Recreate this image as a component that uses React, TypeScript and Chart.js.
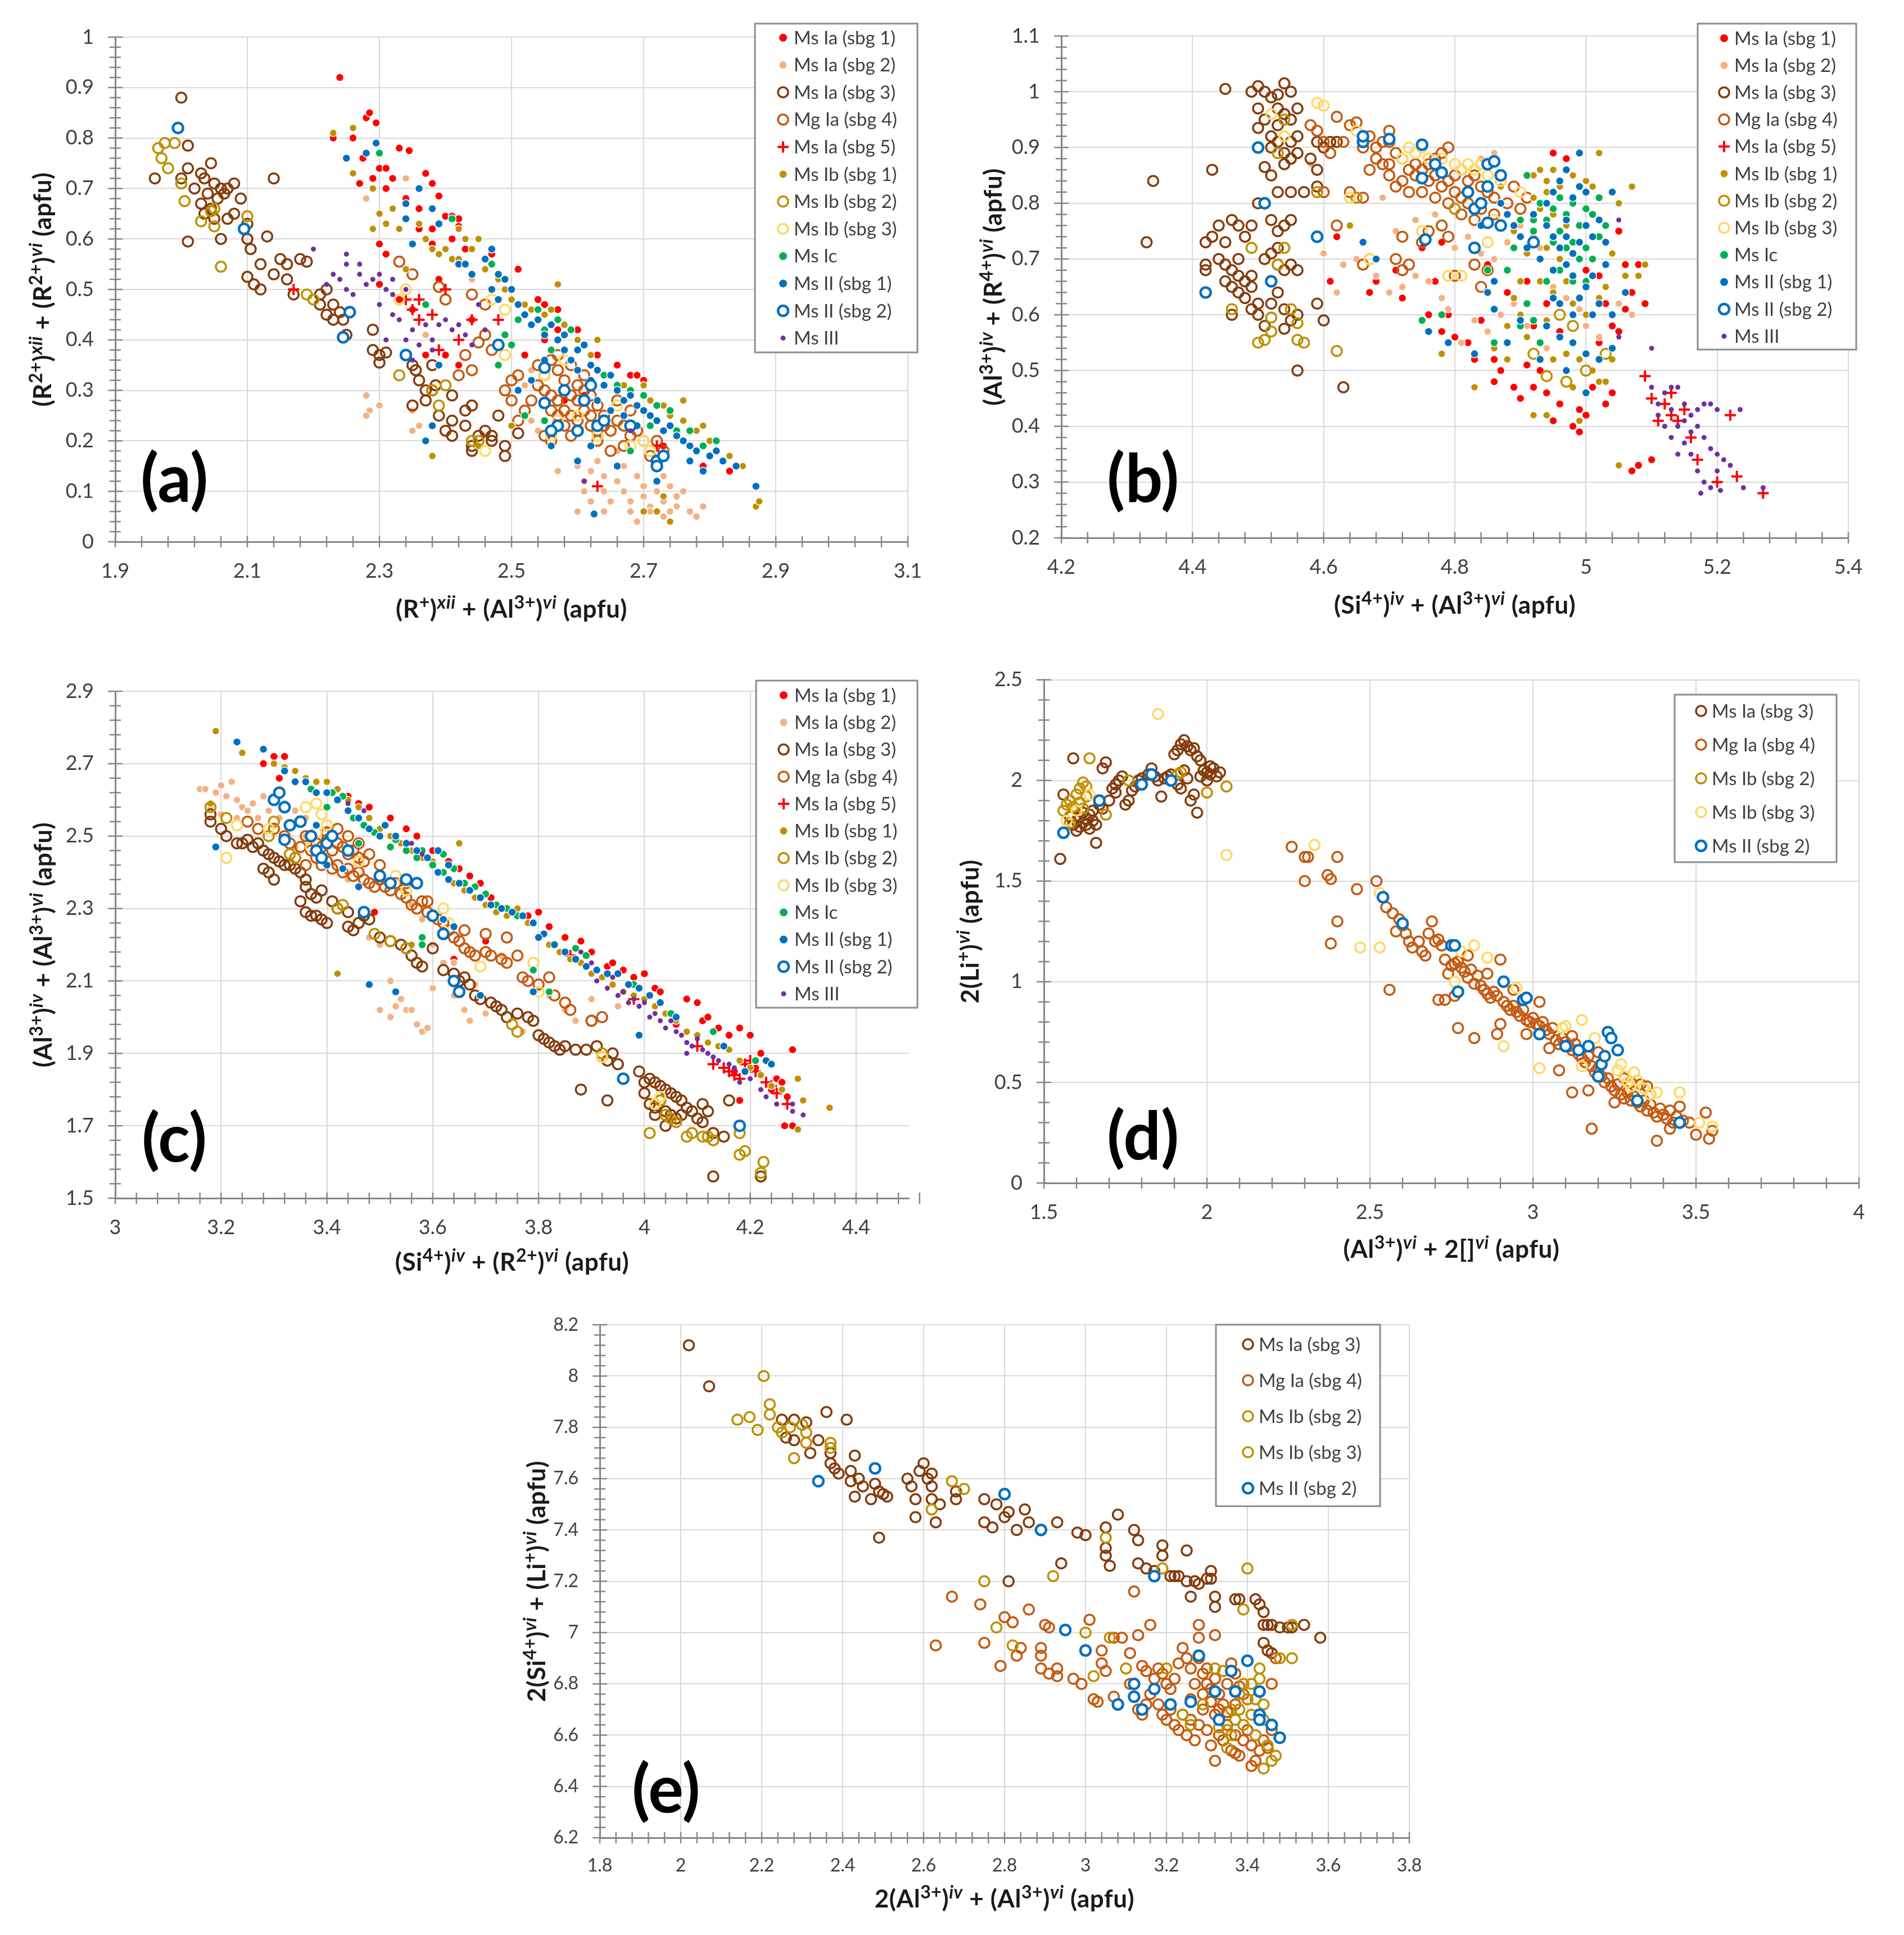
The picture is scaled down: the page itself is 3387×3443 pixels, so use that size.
import React, { useEffect, useRef } from 'react';
import { Chart, registerables } from 'chart.js';

Chart.register(...registerables);

const FONT = 'Lato, "Open Sans", sans-serif';
type Pt = [number, number];

// ---------------- tick values ----------------
const A_XT = [1.9, 2.1, 2.3, 2.5, 2.7, 2.9, 3.1];
const A_YT = [0, 0.1, 0.2, 0.3, 0.4, 0.5, 0.6, 0.7, 0.8, 0.9, 1];
const B_XT = [4.2, 4.4, 4.6, 4.8, 5, 5.2, 5.4];
const B_YT = [0.2, 0.3, 0.4, 0.5, 0.6, 0.7, 0.8, 0.9, 1, 1.1];
const C_XT = [3, 3.2, 3.4, 3.6, 3.8, 4, 4.2, 4.4];
const C_YT = [1.5, 1.7, 1.9, 2.1, 2.3, 2.5, 2.7, 2.9];
const D_XT = [1.5, 2, 2.5, 3, 3.5, 4];
const D_YT = [0, 0.5, 1, 1.5, 2, 2.5];
const E_XT = [1.8, 2, 2.2, 2.4, 2.6, 2.8, 3, 3.2, 3.4, 3.6, 3.8];
const E_YT = [6.2, 6.4, 6.6, 6.8, 7, 7.2, 7.4, 7.6, 7.8, 8, 8.2];

// ---------------- axis titles (^{..} superscript, ^[..] italic superscript) ----------------
const A_XTITLE = '(R^{+})^[xii] + (Al^{3+})^[vi] (apfu)';
const A_YTITLE = '(R^{2+})^[xii] + (R^{2+})^[vi] (apfu)';
const B_XTITLE = '(Si^{4+})^[iv] + (Al^{3+})^[vi] (apfu)';
const B_YTITLE = '(Al^{3+})^[iv] + (R^{4+})^[vi] (apfu)';
const C_XTITLE = '(Si^{4+})^[iv] + (R^{2+})^[vi] (apfu)';
const C_YTITLE = '(Al^{3+})^[iv] + (Al^{3+})^[vi] (apfu)';
const D_XTITLE = '(Al^{3+})^[vi] + 2[]^[vi] (apfu)';
const D_YTITLE = '2(Li^{+})^[vi] (apfu)';
const E_XTITLE = '2(Al^{3+})^[iv] + (Al^{3+})^[vi] (apfu)';
const E_YTITLE = '2(Si^{4+})^[vi] + (Li^{+})^[vi] (apfu)';

// ---------------- panel (a) data ----------------
const A_IA1: Pt[] = [[2.24,0.92],[2.23,0.80],[2.26,0.80],[2.28,0.84],[2.285,0.85],[2.295,0.83],[2.275,0.76],[2.27,0.71],[2.30,0.74],[2.31,0.74],[2.32,0.72],[2.29,0.72],[2.31,0.70],[2.33,0.78],[2.345,0.775],[2.37,0.73],[2.38,0.71],[2.39,0.685],[2.40,0.645],[2.41,0.645],[2.42,0.64],[2.42,0.625],[2.30,0.59],[2.31,0.57],[2.33,0.62],[2.36,0.62],[2.38,0.62],[2.43,0.58],[2.47,0.57],[2.51,0.54],[2.54,0.48],[2.55,0.47],[2.57,0.46],[2.52,0.37],[2.55,0.40],[2.60,0.42],[2.63,0.37],[2.66,0.35],[2.68,0.33],[2.69,0.33],[2.70,0.32],[2.79,0.15],[2.83,0.14],[2.73,0.19],[2.39,0.52],[2.42,0.35],[2.37,0.37],[2.40,0.37],[2.44,0.44],[2.34,0.68],[2.36,0.66],[2.30,0.51],[2.35,0.46],[2.33,0.48],[2.38,0.59],[2.41,0.60],[2.61,0.29],[2.57,0.42],[2.58,0.28]];
const A_IA2: Pt[] = [[2.28,0.29],[2.285,0.26],[2.28,0.25],[2.30,0.27],[2.35,0.26],[2.36,0.23],[2.35,0.22],[2.37,0.41],[2.37,0.20],[2.46,0.21],[2.50,0.23],[2.51,0.30],[2.52,0.31],[2.53,0.34],[2.53,0.24],[2.54,0.22],[2.56,0.19],[2.60,0.15],[2.61,0.12],[2.61,0.10],[2.62,0.14],[2.63,0.16],[2.64,0.13],[2.64,0.10],[2.65,0.08],[2.66,0.12],[2.67,0.15],[2.67,0.10],[2.68,0.08],[2.68,0.06],[2.69,0.13],[2.70,0.11],[2.70,0.09],[2.71,0.07],[2.71,0.06],[2.72,0.10],[2.72,0.12],[2.73,0.08],[2.73,0.05],[2.74,0.06],[2.75,0.09],[2.75,0.07],[2.76,0.10],[2.77,0.06],[2.78,0.05],[2.79,0.07],[2.66,0.18],[2.64,0.06],[2.69,0.04],[2.62,0.08],[2.73,0.13],[2.34,0.72],[2.43,0.55],[2.44,0.52],[2.28,0.68],[2.60,0.06],[2.57,0.14],[2.74,0.11]];
const A_IA3: Pt[] = [[2.00,0.88],[1.96,0.72],[2.00,0.72],[2.01,0.74],[2.03,0.73],[2.01,0.785],[2.045,0.75],[2.035,0.72],[2.02,0.70],[2.04,0.69],[2.05,0.71],[2.06,0.70],[2.07,0.70],[2.08,0.71],[2.03,0.67],[2.045,0.66],[2.035,0.65],[2.05,0.64],[2.07,0.64],[2.08,0.65],[2.055,0.68],[2.065,0.69],[2.09,0.68],[2.06,0.60],[2.10,0.60],[2.105,0.58],[2.10,0.63],[2.01,0.595],[2.13,0.605],[2.14,0.72],[2.12,0.55],[2.15,0.56],[2.16,0.55],[2.14,0.53],[2.16,0.52],[2.10,0.525],[2.11,0.51],[2.12,0.50],[2.17,0.49],[2.19,0.555],[2.18,0.56],[2.21,0.49],[2.21,0.47],[2.22,0.45],[2.23,0.47],[2.24,0.455],[2.23,0.44],[2.22,0.50],[2.245,0.44],[2.25,0.41],[2.29,0.42],[2.29,0.38],[2.30,0.37],[2.30,0.355],[2.31,0.375],[2.35,0.35],[2.355,0.34],[2.36,0.32],[2.37,0.30],[2.38,0.30],[2.385,0.31],[2.38,0.35],[2.35,0.27],[2.37,0.28],[2.39,0.25],[2.41,0.24],[2.41,0.29],[2.40,0.22],[2.41,0.21],[2.43,0.26],[2.44,0.27],[2.43,0.23],[2.44,0.19],[2.46,0.22],[2.47,0.21],[2.47,0.20],[2.48,0.25],[2.49,0.19],[2.49,0.17],[2.51,0.215],[2.45,0.21],[2.44,0.18]];
const A_IA4: Pt[] = [[2.33,0.555],[2.35,0.53],[2.39,0.505],[2.40,0.48],[2.44,0.49],[2.46,0.47],[2.45,0.395],[2.46,0.41],[2.43,0.37],[2.44,0.34],[2.42,0.33],[2.47,0.38],[2.50,0.32],[2.51,0.33],[2.49,0.30],[2.50,0.28],[2.52,0.26],[2.51,0.24],[2.54,0.35],[2.55,0.33],[2.56,0.36],[2.57,0.34],[2.58,0.32],[2.55,0.30],[2.56,0.29],[2.57,0.28],[2.58,0.30],[2.59,0.29],[2.60,0.28],[2.61,0.30],[2.56,0.26],[2.57,0.25],[2.58,0.26],[2.59,0.25],[2.60,0.24],[2.61,0.26],[2.62,0.25],[2.63,0.27],[2.64,0.25],[2.62,0.23],[2.63,0.22],[2.64,0.23],[2.65,0.22],[2.66,0.24],[2.67,0.23],[2.68,0.21],[2.69,0.22],[2.70,0.20],[2.60,0.22],[2.59,0.21],[2.55,0.21],[2.56,0.20],[2.58,0.23],[2.61,0.33],[2.60,0.31],[2.62,0.29],[2.53,0.28],[2.54,0.31],[2.59,0.35],[2.57,0.37],[2.66,0.28],[2.68,0.26],[2.72,0.20],[2.73,0.18],[2.71,0.17],[2.67,0.19],[2.63,0.20],[2.65,0.18]];
const A_IA5: Pt[] = [[2.17,0.50],[2.40,0.50],[2.35,0.46],[2.36,0.48],[2.38,0.45],[2.36,0.44],[2.44,0.44],[2.42,0.40],[2.39,0.38],[2.48,0.44],[2.63,0.11],[2.72,0.19],[2.34,0.48]];
const A_IB1: Pt[] = [[2.23,0.81],[2.26,0.82],[2.26,0.73],[2.29,0.70],[2.30,0.65],[2.32,0.66],[2.31,0.63],[2.29,0.62],[2.33,0.62],[2.36,0.63],[2.37,0.60],[2.38,0.58],[2.39,0.57],[2.40,0.58],[2.41,0.56],[2.42,0.56],[2.43,0.60],[2.44,0.58],[2.45,0.60],[2.44,0.53],[2.46,0.54],[2.48,0.52],[2.49,0.50],[2.50,0.48],[2.52,0.47],[2.53,0.46],[2.55,0.45],[2.56,0.46],[2.57,0.51],[2.58,0.43],[2.60,0.40],[2.62,0.37],[2.63,0.40],[2.65,0.33],[2.67,0.31],[2.70,0.31],[2.71,0.28],[2.73,0.27],[2.74,0.25],[2.76,0.24],[2.78,0.22],[2.80,0.20],[2.81,0.18],[2.83,0.17],[2.85,0.15],[2.87,0.07],[2.875,0.08],[2.70,0.06],[2.72,0.06],[2.74,0.04],[2.73,0.09],[2.38,0.17],[2.45,0.19],[2.50,0.23],[2.42,0.62],[2.34,0.54],[2.76,0.28],[2.79,0.23],[2.68,0.29]];
const A_IB2: Pt[] = [[1.965,0.78],[1.97,0.76],[1.98,0.74],[1.975,0.79],[1.99,0.79],[2.00,0.71],[2.005,0.675],[2.03,0.635],[2.045,0.655],[2.05,0.625],[2.06,0.545],[2.05,0.66],[2.10,0.645],[2.20,0.48],[2.19,0.49],[2.33,0.33],[2.38,0.30],[2.39,0.27],[2.45,0.20],[2.44,0.20],[2.40,0.31]];
const A_IB3: Pt[] = [[2.34,0.50],[2.33,0.48],[2.47,0.48],[2.49,0.37],[2.55,0.33],[2.56,0.21],[2.57,0.24],[2.60,0.25],[2.63,0.21],[2.68,0.19],[2.70,0.20],[2.71,0.18],[2.46,0.18],[2.49,0.46],[2.66,0.27],[2.58,0.36]];
const A_IC: Pt[] = [[2.30,0.77],[2.41,0.64],[2.42,0.55],[2.37,0.47],[2.47,0.55],[2.49,0.41],[2.50,0.39],[2.51,0.44],[2.53,0.43],[2.54,0.46],[2.55,0.42],[2.57,0.44],[2.52,0.25],[2.55,0.24],[2.59,0.42],[2.62,0.35],[2.64,0.33],[2.66,0.31],[2.68,0.30],[2.70,0.29],[2.72,0.27],[2.74,0.26],[2.75,0.22],[2.77,0.22],[2.79,0.19],[2.81,0.20],[2.68,0.18],[2.71,0.23],[2.60,0.38],[2.48,0.35],[2.56,0.38]];
const A_II1: Pt[] = [[2.25,0.76],[2.28,0.77],[2.295,0.79],[2.34,0.67],[2.36,0.70],[2.38,0.66],[2.39,0.63],[2.34,0.64],[2.35,0.59],[2.42,0.55],[2.43,0.55],[2.44,0.53],[2.46,0.56],[2.47,0.58],[2.48,0.53],[2.49,0.52],[2.47,0.50],[2.48,0.48],[2.50,0.50],[2.51,0.47],[2.52,0.45],[2.53,0.43],[2.54,0.44],[2.55,0.41],[2.56,0.43],[2.57,0.40],[2.58,0.41],[2.58,0.38],[2.59,0.36],[2.60,0.38],[2.61,0.39],[2.60,0.34],[2.62,0.35],[2.62,0.32],[2.63,0.34],[2.64,0.31],[2.65,0.33],[2.66,0.30],[2.67,0.28],[2.68,0.29],[2.69,0.27],[2.70,0.26],[2.71,0.25],[2.72,0.24],[2.73,0.22],[2.74,0.23],[2.75,0.21],[2.76,0.20],[2.77,0.19],[2.78,0.18],[2.80,0.17],[2.81,0.18],[2.82,0.16],[2.84,0.15],[2.87,0.11],[2.625,0.055],[2.56,0.19],[2.60,0.16],[2.62,0.19],[2.66,0.15],[2.72,0.12],[2.38,0.23],[2.37,0.20],[2.39,0.35],[2.51,0.30],[2.53,0.32],[2.55,0.36],[2.63,0.28],[2.65,0.26],[2.67,0.25],[2.69,0.23],[2.77,0.16],[2.79,0.14]];
const A_II2: Pt[] = [[1.995,0.82],[2.095,0.62],[2.255,0.455],[2.245,0.405],[2.34,0.37],[2.48,0.39],[2.55,0.345],[2.55,0.275],[2.58,0.30],[2.57,0.23],[2.56,0.22],[2.60,0.22],[2.63,0.23],[2.64,0.24],[2.68,0.23],[2.72,0.16],[2.72,0.15],[2.73,0.17],[2.61,0.28],[2.62,0.31]];
const A_III: Pt[] = [[2.20,0.58],[2.25,0.57],[2.25,0.55],[2.23,0.53],[2.24,0.52],[2.25,0.50],[2.27,0.53],[2.28,0.51],[2.29,0.52],[2.30,0.53],[2.31,0.50],[2.32,0.49],[2.30,0.47],[2.32,0.45],[2.33,0.44],[2.35,0.42],[2.34,0.40],[2.36,0.39],[2.38,0.40],[2.39,0.43],[2.41,0.42],[2.42,0.43],[2.37,0.43],[2.40,0.44],[2.43,0.41],[2.44,0.39],[2.38,0.38],[2.45,0.47],[2.46,0.42],[2.32,0.52],[2.34,0.50],[2.26,0.49],[2.35,0.36],[2.31,0.40],[2.27,0.55],[2.61,0.12],[2.68,0.22],[2.22,0.51]];

// ---------------- panel (b) data ----------------
const B_IA1: Pt[] = [[4.62,0.74],[4.61,0.66],[4.67,0.64],[4.68,0.66],[4.71,0.68],[4.72,0.63],[4.75,0.72],[4.76,0.60],[4.77,0.66],[4.78,0.57],[4.79,0.60],[4.78,0.73],[4.80,0.56],[4.82,0.55],[4.83,0.52],[4.84,0.59],[4.85,0.69],[4.86,0.48],[4.86,0.52],[4.87,0.50],[4.88,0.55],[4.89,0.47],[4.90,0.45],[4.91,0.51],[4.92,0.47],[4.93,0.50],[4.94,0.46],[4.95,0.41],[4.96,0.44],[4.97,0.88],[4.98,0.40],[4.99,0.39],[5.00,0.42],[5.01,0.47],[5.03,0.44],[5.04,0.46],[5.05,0.57],[5.06,0.61],[5.07,0.64],[5.08,0.69],[5.06,0.69],[5.05,0.75],[4.95,0.89],[4.99,0.43],[5.02,0.55],[5.04,0.58],[5.08,0.33],[5.07,0.32],[5.10,0.34],[5.09,0.62],[5.03,0.62],[4.92,0.58],[4.94,0.62],[4.96,0.57],[5.00,0.68],[5.02,0.67],[4.88,0.64],[4.91,0.66]];
const B_IA2: Pt[] = [[4.58,0.87],[4.60,0.71],[4.63,0.69],[4.62,0.64],[4.65,0.70],[4.66,0.73],[4.68,0.67],[4.70,0.64],[4.72,0.65],[4.74,0.67],[4.76,0.66],[4.78,0.63],[4.79,0.61],[4.80,0.72],[4.82,0.74],[4.84,0.71],[4.86,0.70],[4.88,0.73],[4.90,0.76],[4.92,0.74],[4.93,0.72],[4.87,0.60],[4.89,0.62],[4.85,0.57],[4.83,0.59],[4.81,0.55],[4.95,0.65],[4.97,0.63],[4.99,0.61],[5.00,0.58],[5.02,0.56],[4.74,0.77],[4.77,0.78],[4.86,0.89],[4.84,0.88],[4.69,0.81],[4.71,0.75],[4.94,0.54],[4.91,0.58],[5.05,0.62],[5.07,0.60]];
const B_IA3: Pt[] = [[4.33,0.73],[4.34,0.84],[4.43,0.86],[4.45,1.005],[4.49,1.00],[4.50,1.01],[4.51,1.00],[4.52,0.99],[4.53,0.995],[4.54,1.015],[4.55,1.00],[4.53,0.97],[4.54,0.96],[4.56,0.97],[4.55,0.95],[4.53,0.94],[4.52,0.92],[4.51,0.95],[4.50,0.97],[4.50,0.935],[4.52,0.90],[4.53,0.91],[4.54,0.89],[4.55,0.91],[4.56,0.92],[4.55,0.88],[4.54,0.87],[4.51,0.865],[4.52,0.85],[4.53,0.82],[4.55,0.82],[4.56,0.89],[4.57,0.82],[4.59,0.83],[4.59,0.86],[4.58,0.88],[4.60,0.90],[4.61,0.91],[4.62,0.91],[4.59,0.91],[4.51,0.80],[4.50,0.80],[4.44,0.76],[4.45,0.73],[4.46,0.77],[4.47,0.76],[4.48,0.74],[4.49,0.76],[4.42,0.73],[4.43,0.74],[4.42,0.69],[4.42,0.68],[4.44,0.70],[4.45,0.69],[4.46,0.68],[4.47,0.67],[4.45,0.66],[4.46,0.65],[4.47,0.64],[4.48,0.66],[4.49,0.67],[4.48,0.63],[4.49,0.61],[4.50,0.60],[4.51,0.58],[4.52,0.62],[4.51,0.70],[4.52,0.71],[4.53,0.69],[4.54,0.68],[4.55,0.69],[4.53,0.75],[4.54,0.76],[4.55,0.77],[4.52,0.77],[4.56,0.68],[4.53,0.64],[4.54,0.575],[4.55,0.59],[4.56,0.50],[4.56,0.60],[4.59,0.62],[4.60,0.59],[4.63,0.47],[4.49,0.65],[4.50,0.62],[4.46,0.60],[4.47,0.70],[4.53,0.72],[4.54,0.61]];
const B_IA4: Pt[] = [[4.62,0.955],[4.64,0.94],[4.65,0.945],[4.60,0.91],[4.61,0.89],[4.63,0.91],[4.66,0.90],[4.67,0.92],[4.68,0.90],[4.69,0.91],[4.70,0.91],[4.71,0.89],[4.68,0.88],[4.69,0.87],[4.67,0.86],[4.70,0.87],[4.72,0.88],[4.73,0.86],[4.72,0.84],[4.74,0.85],[4.75,0.86],[4.76,0.87],[4.77,0.88],[4.78,0.89],[4.79,0.90],[4.76,0.84],[4.77,0.85],[4.78,0.83],[4.79,0.84],[4.80,0.85],[4.81,0.86],[4.82,0.84],[4.83,0.85],[4.84,0.83],[4.80,0.82],[4.81,0.81],[4.82,0.80],[4.79,0.80],[4.77,0.81],[4.75,0.82],[4.73,0.82],[4.71,0.83],[4.70,0.85],[4.85,0.82],[4.86,0.81],[4.88,0.80],[4.90,0.79],[4.84,0.79],[4.86,0.78],[4.83,0.77],[4.81,0.78],[4.78,0.76],[4.76,0.75],[4.79,0.74],[4.72,0.74],[4.71,0.70],[4.73,0.69],[4.72,0.68],[4.75,0.73],[4.80,0.67],[4.83,0.69],[4.85,0.68],[4.84,0.65],[4.66,0.81],[4.64,0.82],[4.60,0.82],[4.62,0.76],[4.67,0.70],[4.59,0.93],[4.58,0.94],[4.87,0.85],[4.89,0.83],[4.91,0.81],[4.74,0.87],[4.70,0.93],[4.66,0.69]];
const B_IA5: Pt[] = [[5.09,0.49],[5.10,0.45],[5.12,0.44],[5.13,0.42],[5.14,0.41],[5.15,0.43],[5.16,0.38],[5.17,0.34],[5.20,0.30],[5.23,0.31],[5.22,0.42],[5.11,0.41],[5.27,0.28],[5.13,0.46]];
const B_IB1: Pt[] = [[4.64,0.76],[4.78,0.53],[4.83,0.47],[4.86,0.54],[4.88,0.58],[4.89,0.63],[4.90,0.66],[4.91,0.56],[4.92,0.85],[4.93,0.86],[4.94,0.84],[4.95,0.86],[4.92,0.81],[4.93,0.79],[4.94,0.82],[4.96,0.83],[4.98,0.85],[5.00,0.84],[5.02,0.89],[5.01,0.83],[4.95,0.78],[4.97,0.76],[4.94,0.72],[4.96,0.70],[4.93,0.66],[4.95,0.64],[4.97,0.66],[4.98,0.62],[5.00,0.60],[5.02,0.63],[5.03,0.65],[4.94,0.59],[4.96,0.56],[4.97,0.53],[4.99,0.52],[5.01,0.50],[4.95,0.52],[4.93,0.55],[4.92,0.42],[4.94,0.42],[4.99,0.41],[5.02,0.48],[5.03,0.48],[5.04,0.71],[5.05,0.80],[5.07,0.83],[5.08,0.67],[5.09,0.69],[5.06,0.67],[5.05,0.33],[4.98,0.47],[4.90,0.60],[4.88,0.52],[5.04,0.52],[4.91,0.71],[4.89,0.75],[4.87,0.83]];
const B_IB2: Pt[] = [[4.46,0.61],[4.50,0.55],[4.51,0.555],[4.52,0.57],[4.52,0.595],[4.49,0.72],[4.53,0.69],[4.54,0.72],[4.55,0.61],[4.57,0.55],[4.56,0.555],[4.56,0.585],[4.59,0.82],[4.53,0.89],[4.54,0.95],[4.62,0.535],[4.65,0.81],[4.80,0.79],[4.92,0.53],[4.94,0.49],[4.97,0.48],[5.00,0.50],[4.98,0.58],[4.96,0.60],[5.03,0.53]];
const B_IB3: Pt[] = [[4.52,0.96],[4.59,0.98],[4.60,0.975],[4.54,0.92],[4.51,0.80],[4.64,0.81],[4.65,0.93],[4.67,0.70],[4.72,0.88],[4.73,0.90],[4.74,0.89],[4.75,0.90],[4.76,0.88],[4.78,0.88],[4.80,0.87],[4.81,0.86],[4.82,0.87],[4.83,0.86],[4.84,0.87],[4.85,0.85],[4.87,0.84],[4.75,0.75],[4.79,0.67],[4.81,0.67],[4.85,0.73],[4.86,0.77],[4.90,0.82]];
const B_IC: Pt[] = [[4.75,0.59],[4.78,0.60],[4.85,0.68],[4.86,0.55],[4.88,0.68],[4.90,0.77],[4.91,0.85],[4.92,0.75],[4.93,0.80],[4.94,0.77],[4.95,0.79],[4.96,0.81],[4.97,0.78],[4.98,0.80],[4.99,0.76],[5.00,0.79],[5.01,0.78],[5.02,0.81],[4.93,0.70],[4.95,0.73],[4.97,0.72],[4.99,0.70],[5.00,0.72],[5.01,0.70],[4.94,0.66],[4.96,0.68],[4.98,0.66],[4.91,0.62],[4.92,0.59],[4.93,0.55],[4.90,0.58],[5.02,0.74],[5.03,0.76],[4.89,0.72],[4.92,0.77],[4.96,0.75],[4.98,0.73],[5.00,0.66]];
const B_II1: Pt[] = [[4.68,0.70],[4.66,0.73],[4.76,0.57],[4.79,0.55],[4.82,0.82],[4.83,0.79],[4.84,0.76],[4.85,0.64],[4.86,0.66],[4.87,0.80],[4.88,0.78],[4.89,0.76],[4.90,0.74],[4.91,0.72],[4.92,0.78],[4.94,0.80],[4.95,0.82],[4.96,0.84],[4.97,0.86],[4.98,0.81],[4.99,0.83],[5.00,0.82],[4.94,0.76],[4.95,0.74],[4.96,0.72],[4.97,0.74],[4.98,0.71],[4.99,0.73],[5.00,0.76],[5.01,0.74],[5.02,0.77],[4.93,0.70],[4.95,0.68],[4.97,0.69],[4.98,0.67],[5.00,0.65],[5.01,0.67],[5.03,0.69],[4.96,0.62],[4.98,0.60],[4.99,0.63],[5.01,0.60],[5.02,0.62],[5.04,0.60],[4.94,0.58],[4.96,0.56],[4.98,0.55],[5.00,0.53],[5.02,0.52],[5.04,0.54],[4.93,0.52],[4.97,0.50],[5.00,0.46],[4.95,0.63],[5.04,0.82],[5.06,0.64],[4.90,0.59],[4.88,0.55],[4.83,0.53],[4.86,0.61],[4.99,0.89],[4.97,0.77],[5.03,0.73]];
const B_II2: Pt[] = [[4.42,0.64],[4.50,0.90],[4.51,0.80],[4.52,0.66],[4.59,0.74],[4.66,0.91],[4.66,0.92],[4.70,0.915],[4.75,0.905],[4.77,0.87],[4.78,0.855],[4.75,0.845],[4.755,0.735],[4.82,0.82],[4.83,0.79],[4.84,0.80],[4.85,0.83],[4.85,0.87],[4.86,0.875],[4.87,0.85],[4.87,0.76],[4.85,0.765],[4.83,0.72],[4.92,0.73]];
const B_III: Pt[] = [[5.05,0.77],[5.05,0.56],[5.10,0.54],[5.10,0.47],[5.11,0.42],[5.12,0.46],[5.13,0.47],[5.14,0.47],[5.15,0.44],[5.12,0.40],[5.13,0.38],[5.14,0.40],[5.15,0.41],[5.16,0.42],[5.17,0.43],[5.18,0.44],[5.19,0.44],[5.20,0.43],[5.16,0.39],[5.17,0.40],[5.18,0.38],[5.19,0.36],[5.20,0.35],[5.15,0.37],[5.16,0.35],[5.14,0.35],[5.17,0.32],[5.18,0.30],[5.20,0.32],[5.21,0.34],[5.22,0.33],[5.19,0.29],[5.175,0.28],[5.205,0.285],[5.24,0.29],[5.235,0.43],[5.27,0.29],[5.11,0.44],[5.13,0.43]];

// ---------------- panel (c) data ----------------
const C_IA1: Pt[] = [[3.28,2.70],[3.30,2.72],[3.32,2.72],[3.31,2.66],[3.40,2.62],[3.42,2.60],[3.44,2.61],[3.46,2.59],[3.48,2.58],[3.52,2.55],[3.55,2.52],[3.57,2.50],[3.60,2.46],[3.63,2.43],[3.65,2.41],[3.67,2.39],[3.69,2.37],[3.71,2.33],[3.78,2.28],[3.80,2.29],[3.82,2.25],[3.85,2.22],[3.88,2.21],[3.90,2.18],[3.93,2.14],[3.94,2.15],[3.96,2.13],[3.98,2.11],[4.00,2.12],[4.02,2.08],[4.03,2.07],[4.08,2.05],[4.10,2.04],[4.11,1.99],[4.12,2.00],[4.14,1.97],[4.16,1.95],[4.18,1.97],[4.20,1.95],[4.22,1.90],[4.23,1.88],[4.25,1.83],[4.26,1.82],[4.27,1.78],[4.28,1.91],[4.265,1.70],[4.28,1.70],[4.18,1.77],[3.64,2.16],[3.49,2.29],[3.70,2.21],[4.06,1.98],[4.17,1.85],[4.24,1.80],[4.21,1.86]];
const C_IA2: Pt[] = [[3.16,2.63],[3.17,2.63],[3.19,2.62],[3.20,2.64],[3.21,2.61],[3.22,2.65],[3.23,2.60],[3.24,2.58],[3.25,2.57],[3.26,2.59],[3.18,2.58],[3.20,2.56],[3.23,2.55],[3.27,2.55],[3.29,2.57],[3.30,2.53],[3.31,2.55],[3.28,2.61],[3.32,2.59],[3.34,2.57],[3.36,2.55],[3.38,2.53],[3.40,2.52],[3.44,2.38],[3.46,2.36],[3.48,2.22],[3.50,2.20],[3.52,2.10],[3.54,2.05],[3.53,2.03],[3.55,2.02],[3.50,2.02],[3.52,2.00],[3.57,1.98],[3.58,1.96],[3.59,1.97],[3.56,2.02],[3.60,2.08],[3.62,2.15],[3.64,2.06],[3.66,2.02],[3.67,1.99],[3.68,2.09],[3.70,2.01],[3.73,2.17],[3.77,1.96],[3.82,2.06],[3.85,2.02],[3.87,1.99],[3.90,2.05],[3.95,2.03],[3.60,2.20],[3.64,2.15],[3.56,2.31],[3.58,2.27],[3.34,2.47],[3.36,2.50]];
const C_IA3: Pt[] = [[3.18,2.56],[3.18,2.54],[3.20,2.52],[3.21,2.50],[3.23,2.48],[3.24,2.48],[3.25,2.49],[3.26,2.47],[3.27,2.48],[3.28,2.46],[3.29,2.45],[3.30,2.44],[3.28,2.41],[3.29,2.40],[3.30,2.38],[3.31,2.43],[3.32,2.42],[3.33,2.42],[3.34,2.41],[3.35,2.40],[3.36,2.38],[3.36,2.36],[3.37,2.34],[3.38,2.33],[3.39,2.35],[3.35,2.32],[3.36,2.29],[3.37,2.28],[3.38,2.28],[3.39,2.27],[3.40,2.26],[3.41,2.32],[3.42,2.30],[3.44,2.25],[3.45,2.24],[3.46,2.26],[3.48,2.27],[3.50,2.22],[3.52,2.21],[3.54,2.20],[3.55,2.19],[3.56,2.17],[3.57,2.15],[3.58,2.14],[3.60,2.19],[3.62,2.13],[3.64,2.12],[3.65,2.10],[3.66,2.11],[3.67,2.09],[3.68,2.06],[3.69,2.05],[3.71,2.04],[3.72,2.03],[3.73,2.02],[3.74,2.00],[3.76,2.01],[3.78,2.00],[3.79,1.99],[3.80,1.95],[3.81,1.94],[3.82,1.93],[3.83,1.92],[3.84,1.91],[3.85,1.92],[3.87,1.91],[3.89,1.91],[3.90,1.99],[3.91,1.92],[3.92,1.89],[3.93,1.88],[3.94,1.90],[3.95,1.87],[3.88,1.80],[3.93,1.77],[3.99,1.85],[4.00,1.82],[4.01,1.83],[4.02,1.82],[4.03,1.81],[4.04,1.80],[4.05,1.79],[4.06,1.78],[4.07,1.77],[4.00,1.79],[4.01,1.76],[4.02,1.75],[4.03,1.77],[4.04,1.74],[4.05,1.73],[4.06,1.72],[4.07,1.73],[4.08,1.75],[4.09,1.74],[4.10,1.72],[4.11,1.71],[4.12,1.74],[4.13,1.68],[4.15,1.67],[4.11,1.76],[4.16,1.77],[4.13,1.56],[4.22,1.56],[4.02,1.73],[4.04,1.70],[3.44,2.29],[3.47,2.28]];
const C_IA4: Pt[] = [[3.25,2.54],[3.27,2.52],[3.30,2.52],[3.32,2.50],[3.33,2.48],[3.35,2.47],[3.36,2.50],[3.37,2.46],[3.38,2.48],[3.39,2.47],[3.40,2.49],[3.41,2.46],[3.42,2.48],[3.43,2.47],[3.44,2.45],[3.45,2.46],[3.46,2.44],[3.47,2.43],[3.48,2.45],[3.38,2.44],[3.39,2.42],[3.40,2.43],[3.41,2.41],[3.42,2.42],[3.43,2.40],[3.44,2.41],[3.45,2.39],[3.46,2.40],[3.47,2.38],[3.48,2.37],[3.49,2.36],[3.50,2.38],[3.51,2.36],[3.52,2.35],[3.53,2.37],[3.54,2.34],[3.55,2.33],[3.56,2.31],[3.57,2.30],[3.58,2.32],[3.59,2.29],[3.60,2.28],[3.61,2.27],[3.62,2.26],[3.63,2.24],[3.64,2.22],[3.65,2.21],[3.66,2.19],[3.67,2.18],[3.68,2.17],[3.70,2.18],[3.71,2.17],[3.73,2.16],[3.74,2.15],[3.76,2.17],[3.77,2.11],[3.78,2.10],[3.80,2.09],[3.82,2.11],[3.83,2.06],[3.85,2.04],[3.86,2.02],[3.90,1.99],[3.92,2.00],[3.74,2.22],[3.70,2.23],[3.66,2.24],[3.62,2.23],[3.59,2.32],[3.55,2.37],[3.50,2.42],[3.40,2.51],[3.42,2.52],[3.44,2.50],[3.46,2.48],[3.36,2.42],[3.34,2.44]];
const C_IA5: Pt[] = [[4.10,1.92],[4.13,1.87],[4.15,1.86],[4.16,1.85],[4.17,1.84],[4.19,1.87],[4.21,1.85],[4.23,1.82],[4.25,1.79],[4.20,1.88],[4.18,1.83],[4.27,1.76],[4.24,1.81],[3.86,2.17],[3.98,2.05]];
const C_IB1: Pt[] = [[3.19,2.79],[3.24,2.73],[3.30,2.70],[3.34,2.68],[3.36,2.66],[3.38,2.65],[3.40,2.65],[3.42,2.63],[3.44,2.60],[3.46,2.58],[3.48,2.55],[3.50,2.52],[3.52,2.50],[3.54,2.48],[3.56,2.46],[3.58,2.44],[3.60,2.43],[3.65,2.48],[3.62,2.40],[3.64,2.37],[3.66,2.35],[3.68,2.33],[3.70,2.31],[3.72,2.29],[3.74,2.28],[3.76,2.30],[3.78,2.26],[3.80,2.22],[3.82,2.20],[3.84,2.18],[3.86,2.16],[3.88,2.15],[3.90,2.12],[3.92,2.11],[3.94,2.09],[3.96,2.07],[3.98,2.06],[4.00,2.05],[4.02,2.03],[4.04,2.01],[4.06,1.99],[4.08,1.96],[4.10,1.95],[4.12,1.93],[4.14,1.92],[4.16,1.91],[4.18,1.88],[4.20,1.86],[4.22,1.84],[4.24,1.81],[4.26,1.80],[4.29,1.83],[4.30,1.77],[4.29,1.69],[4.35,1.75],[3.42,2.12],[3.56,2.20],[3.18,2.59],[3.32,2.69]];
const C_IB2: Pt[] = [[3.18,2.58],[3.21,2.55],[3.29,2.50],[3.30,2.54],[3.33,2.45],[3.34,2.44],[3.42,2.30],[3.43,2.31],[3.49,2.23],[3.52,2.21],[3.55,2.19],[3.75,1.98],[3.76,1.96],[3.92,1.90],[4.03,1.77],[4.04,1.73],[4.05,1.72],[4.01,1.68],[4.08,1.67],[4.09,1.68],[4.11,1.67],[4.12,1.67],[4.13,1.66],[4.18,1.68],[4.18,1.62],[4.19,1.63],[4.22,1.57],[4.225,1.60],[4.06,1.71]];
const C_IB3: Pt[] = [[3.21,2.44],[3.23,2.53],[3.29,2.52],[3.31,2.62],[3.36,2.58],[3.38,2.59],[3.38,2.51],[3.40,2.53],[3.37,2.47],[3.39,2.56],[3.46,2.43],[3.53,2.39],[3.55,2.35],[3.62,2.30],[3.63,2.26],[3.69,2.14],[3.79,2.15],[3.80,2.07],[3.92,1.89],[4.02,1.76],[4.03,1.78]];
const C_IC: Pt[] = [[3.40,2.58],[3.41,2.62],[3.43,2.61],[3.44,2.57],[3.45,2.55],[3.47,2.53],[3.49,2.51],[3.50,2.50],[3.52,2.47],[3.53,2.49],[3.55,2.46],[3.57,2.44],[3.58,2.46],[3.60,2.42],[3.62,2.40],[3.64,2.41],[3.66,2.37],[3.68,2.36],[3.70,2.34],[3.72,2.31],[3.74,2.30],[3.76,2.28],[3.58,2.22],[3.58,2.20],[3.79,2.13],[3.82,2.07],[3.87,2.19],[3.89,2.17],[3.98,2.09],[4.05,2.01],[4.13,1.96],[4.21,1.88],[3.37,2.63],[3.46,2.48],[3.62,2.45]];
const C_II1: Pt[] = [[3.19,2.47],[3.23,2.76],[3.28,2.74],[3.32,2.68],[3.34,2.65],[3.36,2.65],[3.38,2.62],[3.40,2.62],[3.42,2.60],[3.44,2.57],[3.46,2.55],[3.48,2.52],[3.50,2.50],[3.51,2.53],[3.53,2.50],[3.55,2.48],[3.57,2.46],[3.59,2.44],[3.61,2.46],[3.63,2.42],[3.61,2.40],[3.63,2.38],[3.65,2.37],[3.67,2.35],[3.69,2.33],[3.71,2.31],[3.73,2.30],[3.75,2.29],[3.77,2.28],[3.79,2.26],[3.81,2.23],[3.80,2.22],[3.83,2.20],[3.85,2.18],[3.87,2.16],[3.89,2.14],[3.91,2.13],[3.93,2.12],[3.95,2.12],[3.97,2.09],[3.99,2.08],[4.01,2.06],[4.03,2.04],[4.06,2.00],[4.15,1.92],[4.19,1.85],[4.23,1.88],[4.24,1.87],[3.99,1.95],[3.48,2.09],[3.53,2.07],[3.64,2.25],[3.62,2.27],[3.69,2.06],[3.79,2.07],[3.43,2.41],[3.40,2.42],[3.46,2.36],[3.38,2.53]];
const C_II2: Pt[] = [[3.30,2.60],[3.31,2.62],[3.32,2.58],[3.33,2.53],[3.32,2.49],[3.35,2.54],[3.37,2.50],[3.38,2.46],[3.39,2.44],[3.40,2.48],[3.41,2.50],[3.44,2.46],[3.47,2.29],[3.50,2.39],[3.52,2.37],[3.55,2.38],[3.57,2.37],[3.60,2.28],[3.62,2.23],[3.64,2.10],[3.65,2.07],[3.96,1.83],[4.18,1.70]];
const C_III: Pt[] = [[3.44,2.59],[3.47,2.57],[3.56,2.48],[3.58,2.45],[3.88,2.18],[3.90,2.15],[3.91,2.10],[3.93,2.08],[3.94,2.11],[3.95,2.06],[3.96,2.07],[3.97,2.04],[3.98,2.05],[3.99,2.03],[4.00,2.04],[4.01,2.00],[4.02,2.01],[4.03,1.99],[4.04,1.97],[4.06,1.96],[4.07,1.95],[4.08,1.93],[4.09,1.92],[4.10,1.94],[4.11,1.91],[4.12,1.90],[4.13,1.89],[4.14,1.88],[4.16,1.87],[4.17,1.86],[4.18,1.82],[4.20,1.83],[4.22,1.80],[4.23,1.78],[4.25,1.76],[4.28,1.74],[4.30,1.73],[4.28,1.76],[4.05,1.99],[4.08,1.90]];

// ---------------- panel (d) data ----------------
const D_IA3: Pt[] = [[1.55,1.61],[1.56,1.93],[1.58,1.82],[1.59,1.78],[1.60,1.80],[1.61,1.82],[1.62,1.79],[1.63,1.81],[1.61,1.77],[1.62,1.84],[1.63,1.78],[1.64,1.83],[1.60,1.75],[1.59,2.11],[1.66,1.69],[1.66,1.78],[1.65,1.85],[1.67,1.88],[1.68,1.86],[1.68,2.06],[1.69,2.09],[1.70,1.90],[1.71,1.96],[1.72,1.98],[1.73,2.00],[1.74,2.02],[1.72,1.94],[1.75,1.88],[1.76,1.90],[1.77,1.95],[1.78,1.97],[1.79,2.00],[1.80,2.01],[1.82,2.03],[1.83,2.06],[1.84,2.02],[1.85,2.00],[1.86,1.92],[1.87,2.01],[1.88,2.02],[1.89,2.03],[1.90,2.13],[1.91,2.15],[1.92,2.18],[1.93,2.20],[1.94,2.17],[1.95,2.15],[1.96,2.16],[1.97,2.12],[1.98,2.10],[1.91,1.98],[1.92,1.96],[1.93,2.05],[1.94,2.01],[1.95,1.90],[1.96,1.93],[1.97,1.84],[1.98,2.02],[1.99,2.05],[2.00,2.04],[2.01,2.03],[2.02,2.06],[2.03,2.02],[2.04,2.04],[2.00,2.00],[2.01,2.07],[1.65,1.80],[1.64,1.76]];
const D_IA4: Pt[] = [[2.26,1.67],[2.30,1.62],[2.31,1.62],[2.30,1.50],[2.37,1.53],[2.38,1.51],[2.40,1.62],[2.40,1.30],[2.38,1.19],[2.46,1.46],[2.52,1.50],[2.56,0.96],[2.55,1.37],[2.57,1.34],[2.58,1.25],[2.59,1.31],[2.60,1.28],[2.61,1.24],[2.62,1.20],[2.63,1.17],[2.65,1.20],[2.66,1.15],[2.67,1.13],[2.68,1.24],[2.69,1.30],[2.70,1.20],[2.71,1.21],[2.72,1.18],[2.73,1.11],[2.74,1.04],[2.75,1.08],[2.76,1.09],[2.77,1.10],[2.78,1.07],[2.79,1.05],[2.80,1.02],[2.81,1.06],[2.82,0.99],[2.83,1.03],[2.84,0.98],[2.85,0.96],[2.86,0.94],[2.87,0.92],[2.88,0.95],[2.89,0.93],[2.90,1.11],[2.91,0.90],[2.92,0.88],[2.93,0.86],[2.94,0.88],[2.95,0.85],[2.96,0.83],[2.97,0.86],[2.98,0.81],[2.99,0.80],[3.00,0.82],[3.01,0.79],[3.02,0.78],[3.03,0.80],[3.04,0.76],[3.05,0.74],[3.06,0.77],[3.07,0.71],[3.08,0.69],[3.09,0.72],[3.10,0.70],[3.11,0.68],[3.12,0.66],[3.13,0.69],[3.14,0.64],[3.15,0.62],[3.16,0.60],[3.17,0.63],[3.18,0.58],[3.19,0.55],[3.20,0.57],[3.21,0.53],[3.22,0.50],[3.23,0.52],[3.24,0.48],[3.25,0.46],[3.26,0.49],[3.27,0.44],[3.28,0.42],[3.29,0.45],[3.30,0.41],[3.31,0.43],[3.32,0.40],[3.33,0.38],[3.34,0.41],[3.35,0.36],[3.36,0.39],[3.37,0.35],[3.38,0.33],[3.39,0.37],[3.40,0.34],[3.41,0.32],[3.42,0.36],[3.43,0.30],[3.44,0.33],[3.46,0.31],[3.48,0.30],[3.50,0.24],[3.53,0.35],[3.54,0.22],[3.55,0.26],[3.38,0.21],[3.18,0.27],[3.12,0.45],[3.17,0.46],[3.08,0.56],[2.82,0.72],[2.77,0.77],[2.76,0.93],[2.71,0.91],[2.73,0.91],[2.89,0.74],[2.90,0.79],[3.30,0.50],[3.35,0.48],[3.25,0.40],[2.98,0.74],[3.05,0.67],[3.12,0.73],[3.20,0.65],[3.28,0.52],[3.36,0.44],[3.45,0.38],[3.42,0.27],[3.33,0.49],[3.02,0.90],[2.94,0.96],[2.86,1.04],[2.80,1.13]];
const D_IB2: Pt[] = [[1.56,1.85],[1.57,1.88],[1.58,1.90],[1.59,1.87],[1.60,1.93],[1.61,1.96],[1.62,1.99],[1.63,1.97],[1.64,2.11],[1.63,1.92],[1.61,1.89],[1.62,1.86],[1.58,1.79],[1.69,1.83],[1.76,2.00],[1.91,2.03],[1.92,2.04],[2.00,1.94],[2.06,1.97]];
const D_IB3: Pt[] = [[1.57,1.80],[1.60,1.85],[1.64,1.93],[1.85,2.33],[2.06,1.63],[2.33,1.68],[2.47,1.17],[2.53,1.17],[2.53,1.44],[2.76,1.00],[2.78,1.15],[2.82,1.18],[2.86,1.12],[2.95,0.97],[2.91,0.68],[3.02,0.57],[3.09,0.77],[3.10,0.78],[3.15,0.81],[3.15,0.58],[3.19,0.72],[3.26,0.56],[3.28,0.53],[3.29,0.50],[3.30,0.48],[3.32,0.51],[3.34,0.47],[3.36,0.44],[3.38,0.45],[3.45,0.45],[3.51,0.30],[3.55,0.28],[3.27,0.59],[3.31,0.55]];
const D_II2: Pt[] = [[1.56,1.74],[1.67,1.90],[1.80,1.98],[1.83,2.03],[1.89,2.00],[2.54,1.42],[2.60,1.29],[2.75,1.18],[2.76,1.18],[2.77,0.95],[2.91,1.00],[2.97,0.91],[2.98,0.92],[3.02,0.74],[3.10,0.68],[3.14,0.66],[3.17,0.68],[3.20,0.53],[3.21,0.59],[3.22,0.63],[3.23,0.75],[3.24,0.72],[3.26,0.66],[3.32,0.41],[3.45,0.30]];

// ---------------- panel (e) data ----------------
const E_IA3: Pt[] = [[2.02,8.12],[2.07,7.96],[2.25,7.83],[2.26,7.76],[2.28,7.83],[2.28,7.75],[2.31,7.82],[2.32,7.70],[2.34,7.75],[2.36,7.86],[2.37,7.70],[2.37,7.66],[2.38,7.64],[2.39,7.62],[2.41,7.83],[2.42,7.63],[2.42,7.59],[2.43,7.69],[2.43,7.53],[2.44,7.60],[2.45,7.57],[2.47,7.52],[2.48,7.58],[2.49,7.55],[2.49,7.37],[2.50,7.54],[2.51,7.53],[2.56,7.60],[2.57,7.57],[2.58,7.45],[2.58,7.52],[2.59,7.63],[2.60,7.66],[2.61,7.60],[2.62,7.62],[2.62,7.57],[2.62,7.52],[2.63,7.43],[2.64,7.50],[2.68,7.55],[2.68,7.52],[2.75,7.52],[2.75,7.43],[2.77,7.41],[2.78,7.50],[2.80,7.45],[2.81,7.47],[2.81,7.20],[2.83,7.40],[2.85,7.48],[2.86,7.43],[2.93,7.43],[2.94,7.27],[2.98,7.39],[3.00,7.38],[3.05,7.41],[3.05,7.33],[3.05,7.30],[3.06,7.26],[3.08,7.46],[3.12,7.40],[3.13,7.36],[3.13,7.27],[3.15,7.25],[3.17,7.24],[3.19,7.34],[3.19,7.30],[3.21,7.22],[3.22,7.22],[3.23,7.22],[3.25,7.32],[3.25,7.20],[3.26,7.14],[3.27,7.20],[3.28,7.19],[3.30,7.21],[3.31,7.24],[3.31,7.21],[3.32,7.14],[3.32,7.10],[3.37,7.13],[3.38,7.13],[3.42,7.13],[3.43,7.11],[3.44,7.08],[3.44,7.03],[3.45,7.03],[3.46,7.03],[3.48,7.02],[3.50,7.02],[3.51,7.02],[3.54,7.03],[3.58,6.98],[3.44,6.96],[3.45,6.93],[3.46,6.92]];
const E_IA4: Pt[] = [[2.63,6.95],[2.67,7.14],[2.74,7.11],[2.75,6.96],[2.79,6.87],[2.80,7.06],[2.82,7.04],[2.83,6.91],[2.86,7.09],[2.84,6.94],[2.89,6.94],[2.89,6.91],[2.90,7.03],[2.91,7.02],[2.89,6.86],[2.91,6.84],[2.93,6.86],[2.93,6.83],[2.97,6.82],[2.99,6.80],[3.01,7.05],[3.02,6.74],[3.03,6.73],[3.04,6.93],[3.04,6.88],[3.05,6.85],[3.07,6.98],[3.07,6.75],[3.09,6.98],[3.11,6.92],[3.12,7.16],[3.13,6.99],[3.14,6.87],[3.15,6.85],[3.16,7.03],[3.11,6.80],[3.13,6.70],[3.14,6.68],[3.15,6.72],[3.16,6.76],[3.17,6.82],[3.18,6.86],[3.19,6.84],[3.20,6.80],[3.21,6.78],[3.22,6.82],[3.23,6.88],[3.24,6.94],[3.25,6.90],[3.26,6.86],[3.27,6.80],[3.28,7.03],[3.28,6.98],[3.29,6.84],[3.30,6.80],[3.31,6.78],[3.32,6.99],[3.32,6.82],[3.33,6.76],[3.34,6.72],[3.35,6.80],[3.36,6.88],[3.37,6.84],[3.38,6.79],[3.39,6.76],[3.40,6.74],[3.18,6.72],[3.19,6.68],[3.20,6.66],[3.21,6.70],[3.22,6.64],[3.23,6.62],[3.24,6.68],[3.25,6.60],[3.26,6.66],[3.27,6.58],[3.28,6.64],[3.29,6.70],[3.30,6.62],[3.31,6.56],[3.32,6.68],[3.33,6.60],[3.34,6.58],[3.35,6.64],[3.36,6.54],[3.37,6.60],[3.38,6.52],[3.39,6.58],[3.40,6.62],[3.41,6.56],[3.42,6.50],[3.43,6.54],[3.44,6.58],[3.45,6.55],[3.46,6.62],[3.32,6.50],[3.37,6.53],[3.41,6.48],[3.46,6.80],[3.47,6.90],[3.26,6.74],[3.29,6.76],[3.31,6.73],[3.33,6.70],[3.35,6.69],[3.37,6.72],[3.30,6.86],[3.28,6.90]];
const E_IB2: Pt[] = [[2.14,7.83],[2.17,7.84],[2.19,7.79],[2.205,8.00],[2.22,7.89],[2.22,7.85],[2.24,7.80],[2.25,7.78],[2.28,7.68],[2.30,7.81],[2.31,7.78],[2.31,7.74],[2.37,7.74],[2.62,7.48],[2.67,7.59],[2.70,7.56],[2.75,7.20],[2.78,7.02],[2.82,6.95],[2.92,7.22],[3.00,7.00],[3.02,6.83],[3.05,7.37],[3.06,6.98],[3.10,6.86],[3.19,7.25],[3.24,6.68],[3.26,6.64],[3.32,6.86],[3.34,6.85],[3.35,6.62],[3.36,6.60],[3.37,6.66],[3.38,6.70],[3.39,6.80],[3.39,7.09],[3.40,7.25],[3.40,6.74],[3.41,6.68],[3.42,6.60],[3.43,6.82],[3.43,6.86],[3.44,6.72],[3.45,6.56],[3.46,6.50],[3.47,6.52],[3.44,6.47],[3.48,6.90],[3.51,7.03],[3.51,6.90],[3.33,6.63],[3.35,6.55]];
const E_IB3: Pt[] = [[2.27,7.80],[2.37,7.72],[3.38,6.76],[3.41,6.80],[3.44,6.66],[3.36,6.70],[3.20,6.86],[3.29,6.72],[3.42,6.74],[3.39,6.64]];
const E_II2: Pt[] = [[2.34,7.59],[2.48,7.64],[2.80,7.54],[2.89,7.40],[2.95,7.01],[3.00,6.93],[3.08,6.72],[3.12,6.80],[3.12,6.75],[3.14,6.70],[3.17,6.78],[3.17,7.22],[3.21,6.72],[3.26,6.73],[3.28,6.91],[3.32,6.77],[3.33,6.66],[3.36,6.85],[3.37,6.77],[3.40,6.89],[3.43,6.77],[3.43,6.68],[3.43,6.66],[3.46,6.64],[3.48,6.59]];

// ---------------- series styles ----------------
type Kind = 'dot' | 'ring' | 'cross';
interface SStyle { label: string; kind: Kind; color: string; r: number; bw: number; fill?: string }
const STYLE: Record<string, SStyle> = {
  IA1: { label: 'Ms Ia (sbg 1)', kind: 'dot', color: '#FF0000', r: 7, bw: 1.5 },
  IA2: { label: 'Ms Ia (sbg 2)', kind: 'dot', color: '#F4B183', r: 6.5, bw: 1.5 },
  IA3: { label: 'Ms Ia (sbg 3)', kind: 'ring', color: '#843C0C', r: 9, bw: 3.5 },
  IA4: { label: 'Mg Ia (sbg 4)', kind: 'ring', color: '#C55A11', r: 9, bw: 3.5 },
  IA5: { label: 'Ms Ia (sbg 5)', kind: 'cross', color: '#FF0000', r: 10, bw: 4 },
  IB1: { label: 'Ms Ib (sbg 1)', kind: 'dot', color: '#BF9000', r: 6.5, bw: 1.5 },
  IB2: { label: 'Ms Ib (sbg 2)', kind: 'ring', color: '#BF9000', r: 9, bw: 3.5 },
  IB3: { label: 'Ms Ib (sbg 3)', kind: 'ring', color: '#FFD966', r: 9, bw: 3.5 },
  IB3E: { label: 'Ms Ib (sbg 3)', kind: 'ring', color: '#BF9000', r: 9, bw: 3.5 },
  IC: { label: 'Ms Ic', kind: 'dot', color: '#00B050', r: 7, bw: 1.5 },
  II1: { label: 'Ms II (sbg 1)', kind: 'dot', color: '#0070C0', r: 7, bw: 1.5 },
  II2: { label: 'Ms II (sbg 2)', kind: 'ring', color: '#0070C0', r: 9, bw: 4.5, fill: '#FFFFFF' },
  III: { label: 'Ms III', kind: 'dot', color: '#7030A0', r: 4.5, bw: 0 },
};

interface Panel {
  cx: number; cy: number; cw: number; ch: number;
  L: number; R: number; T: number; B: number;
  xMin: number; xMax: number; yMin: number; yMax: number;
  xTicks: number[]; yTicks: number[]; xMinor: number; yMinor: number;
  xTitle: string; yTitle: string; xTitleBase: number; yTitleX: number;
  tag: string; tagX: number; tagBase: number; tickFont: number; xPad: number;
  legend: { x: number; y: number; w: number; h: number; first: number; step: number; mx: number; tx: number };
  series: [string, Pt[]][];
}

const PANELS: Panel[] = [
  {
    cx: 0, cy: 0, cw: 1700, ch: 1140, L: 205, R: 1615, T: 66, B: 964,
    xMin: 1.9, xMax: 3.1, yMin: 0, yMax: 1, xTicks: A_XT, yTicks: A_YT, xMinor: 0.04, yMinor: 0.02,
    xTitle: A_XTITLE, yTitle: A_YTITLE, xTitleBase: 1099, yTitleX: 77, tag: '(a)', tagX: 250, tagBase: 893, tickFont: 36, xPad: 31,
    legend: { x: 1343, y: 42, w: 289, h: 585, first: 67, step: 48.6, mx: 1393, tx: 1412 },
    series: [['IA1', A_IA1], ['IA2', A_IA2], ['IA3', A_IA3], ['IA4', A_IA4], ['IA5', A_IA5], ['IB1', A_IB1], ['IB2', A_IB2], ['IB3', A_IB3], ['IC', A_IC], ['II1', A_II1], ['II2', A_II2], ['III', A_III]],
  },
  {
    cx: 1680, cy: 0, cw: 1707, ch: 1140, L: 1888, R: 3288, T: 64, B: 957,
    xMin: 4.2, xMax: 5.4, yMin: 0.2, yMax: 1.1, xTicks: B_XT, yTicks: B_YT, xMinor: 0.04, yMinor: 0.02,
    xTitle: B_XTITLE, yTitle: B_YTITLE, xTitleBase: 1092, yTitleX: 1768, tag: '(b)', tagX: 1969, tagBase: 893, tickFont: 36, xPad: 31,
    legend: { x: 3020, y: 42, w: 282, h: 580, first: 68, step: 48.2, mx: 3067, tx: 3085 },
    series: [['IA1', B_IA1], ['IA2', B_IA2], ['IA3', B_IA3], ['IA4', B_IA4], ['IA5', B_IA5], ['IB1', B_IB1], ['IB2', B_IB2], ['IB3', B_IB3], ['IC', B_IC], ['II1', B_II1], ['II2', B_II2], ['III', B_III]],
  },
  {
    cx: 0, cy: 1150, cw: 1700, ch: 1150, L: 205, R: 1617, T: 1230, B: 2132,
    xMin: 3, xMax: 4.5, yMin: 1.5, yMax: 2.9, xTicks: C_XT, yTicks: C_YT, xMinor: 0.04, yMinor: 0.04,
    xTitle: C_XTITLE, yTitle: C_YTITLE, xTitleBase: 2261, yTitleX: 78, tag: '(c)', tagX: 252, tagBase: 2067, tickFont: 36, xPad: 31,
    legend: { x: 1345, y: 1211, w: 287, h: 582, first: 1237, step: 48.3, mx: 1394, tx: 1413 },
    series: [['IA1', C_IA1], ['IA2', C_IA2], ['IA3', C_IA3], ['IA4', C_IA4], ['IA5', C_IA5], ['IB1', C_IB1], ['IB2', C_IB2], ['IB3', C_IB3], ['IC', C_IC], ['II1', C_II1], ['II2', C_II2], ['III', C_III]],
  },
  {
    cx: 1680, cy: 1150, cw: 1707, ch: 1150, L: 1857, R: 3307, T: 1190, B: 2105,
    xMin: 1.5, xMax: 4, yMin: 0, yMax: 2.5, xTicks: D_XT, yTicks: D_YT, xMinor: 0.1, yMinor: 0.1,
    xTitle: D_XTITLE, yTitle: D_YTITLE, xTitleBase: 2238, yTitleX: 1727, tag: '(d)', tagX: 1969, tagBase: 2063, tickFont: 36, xPad: 31,
    legend: { x: 2979, y: 1236, w: 288, h: 298, first: 1265, step: 60, mx: 3026, tx: 3045 },
    series: [['IA3', D_IA3], ['IA4', D_IA4], ['IB2', D_IB2], ['IB3', D_IB3], ['II2', D_II2]],
  },
  {
    cx: 850, cy: 2300, cw: 1750, ch: 1143, L: 1067, R: 2507, T: 2345, B: 3270,
    xMin: 1.8, xMax: 3.8, yMin: 6.2, yMax: 8.2, xTicks: E_XT, yTicks: E_YT, xMinor: 0.04, yMinor: 0.04,
    xTitle: E_XTITLE, yTitle: E_YTITLE, xTitleBase: 3394, yTitleX: 956, tag: '(e)', tagX: 1124, tagBase: 3225, tickFont: 32, xPad: 30,
    legend: { x: 2163, y: 2357, w: 292, h: 323, first: 2392, step: 64, mx: 2220, tx: 2239 },
    series: [['IA3', E_IA3], ['IA4', E_IA4], ['IB2', E_IB2], ['IB3E', E_IB3], ['II2', E_II2]],
  },
];

// ---------------- helpers ----------------
const fmt = (v: number) => String(parseFloat(Number(v).toFixed(3)));
const TITLE_SIZE = 44;
const SUP_RATIO = 0.72;
const LEGEND_SIZE = 33;

function parseRich(s: string) {
  const out: { t: string; sup?: boolean; it?: boolean }[] = [];
  const re = /\^\{([^}]*)\}|\^\[([^\]]*)\]/g;
  let i = 0;
  let m: RegExpExecArray | null;
  while ((m = re.exec(s))) {
    if (m.index > i) out.push({ t: s.slice(i, m.index) });
    if (m[1] !== undefined) out.push({ t: m[1], sup: true });
    else out.push({ t: m[2], sup: true, it: true });
    i = re.lastIndex;
  }
  if (i < s.length) out.push({ t: s.slice(i) });
  return out;
}

function drawRich(ctx: CanvasRenderingContext2D, s: string, x: number, y: number, size: number) {
  const segs = parseRich(s);
  const fontOf = (g: any) => `${g.it ? 'italic ' : ''}bold ${g.sup ? Math.round(size * SUP_RATIO) : size}px ${FONT}`;
  const c: any = ctx;
  if ('letterSpacing' in c) c.letterSpacing = '0.6px';
  let w = 0;
  for (const g of segs) { ctx.font = fontOf(g); w += ctx.measureText(g.t).width; }
  let px = x - w / 2;
  ctx.textAlign = 'left';
  ctx.textBaseline = 'alphabetic';
  for (const g of segs) {
    ctx.font = fontOf(g);
    ctx.fillText(g.t, px, g.sup ? y - size * 0.36 : y);
    px += ctx.measureText(g.t).width;
  }
  if ('letterSpacing' in c) c.letterSpacing = '0px';
}

function drawMarker(ctx: CanvasRenderingContext2D, s: SStyle, x: number, y: number) {
  ctx.save();
  if (s.kind === 'dot') {
    ctx.beginPath(); ctx.arc(x, y, s.r, 0, Math.PI * 2); ctx.fillStyle = s.color; ctx.fill();
  } else if (s.kind === 'ring') {
    ctx.beginPath(); ctx.arc(x, y, s.r, 0, Math.PI * 2);
    if (s.fill) { ctx.fillStyle = s.fill; ctx.fill(); }
    ctx.lineWidth = s.bw; ctx.strokeStyle = s.color; ctx.stroke();
  } else {
    ctx.beginPath(); ctx.moveTo(x - s.r, y); ctx.lineTo(x + s.r, y); ctx.moveTo(x, y - s.r); ctx.lineTo(x, y + s.r);
    ctx.lineWidth = s.bw; ctx.strokeStyle = s.color; ctx.stroke();
  }
  ctx.restore();
}

function makeDecor(p: Panel) {
  return {
    id: 'decor',
    afterDraw(chart: any) {
      const ctx: CanvasRenderingContext2D = chart.ctx;
      const xs = chart.scales.x;
      const ys = chart.scales.y;
      const ca = chart.chartArea;
      ctx.save();
      // minor + major tick marks crossing the axes
      ctx.strokeStyle = '#868686';
      ctx.lineWidth = 2.5;
      const nx = Math.round((p.xMax - p.xMin) / p.xMinor);
      for (let i = 0; i <= nx; i++) {
        const px = xs.getPixelForValue(p.xMin + i * p.xMinor);
        ctx.beginPath(); ctx.moveTo(px, ca.bottom - 10); ctx.lineTo(px, ca.bottom + 10); ctx.stroke();
      }
      const ny = Math.round((p.yMax - p.yMin) / p.yMinor);
      for (let i = 0; i <= ny; i++) {
        const v = p.yMin + i * p.yMinor;
        const major = p.yTicks.some((t) => Math.abs(t - v) < 1e-6);
        const py = ys.getPixelForValue(v);
        ctx.beginPath(); ctx.moveTo(ca.left - (major ? 13 : 10), py); ctx.lineTo(ca.left + (major ? 13 : 10), py); ctx.stroke();
      }
      // axis titles
      ctx.fillStyle = '#1A1A1A';
      drawRich(ctx, p.xTitle, (ca.left + ca.right) / 2, p.xTitleBase - p.cy, TITLE_SIZE);
      ctx.save();
      ctx.translate(p.yTitleX + 14 - p.cx, (ca.top + ca.bottom) / 2);
      ctx.rotate(-Math.PI / 2);
      drawRich(ctx, p.yTitle, 0, 0, TITLE_SIZE);
      ctx.restore();
      // panel tag
      ctx.fillStyle = '#000000';
      ctx.font = `bold 118px ${FONT}`;
      ctx.textAlign = 'left';
      ctx.textBaseline = 'alphabetic';
      ctx.fillText(p.tag, p.tagX - p.cx, p.tagBase - p.cy);
      // legend
      const lg = p.legend;
      ctx.fillStyle = '#FFFFFF';
      ctx.fillRect(lg.x - p.cx, lg.y - p.cy, lg.w, lg.h);
      ctx.strokeStyle = '#8C8C8C';
      ctx.lineWidth = 3;
      ctx.strokeRect(lg.x - p.cx, lg.y - p.cy, lg.w, lg.h);
      p.series.forEach(([key], i) => {
        const s = STYLE[key];
        const y = lg.first + i * lg.step - p.cy;
        drawMarker(ctx, s, lg.mx - p.cx, y);
        ctx.fillStyle = '#404040';
        ctx.font = `${LEGEND_SIZE}px ${FONT}`;
        ctx.textAlign = 'left';
        ctx.textBaseline = 'middle';
        ctx.fillText(s.label, lg.tx - p.cx, y + 1);
      });
      ctx.restore();
    },
  };
}

function buildConfig(p: Panel): any {
  const n = p.series.length;
  const datasets = p.series.map(([key, pts], i) => {
    const s = STYLE[key];
    return {
      label: s.label,
      data: pts.map(([x, y]) => ({ x, y })),
      showLine: false,
      pointStyle: s.kind === 'cross' ? 'cross' : 'circle',
      pointRadius: s.r,
      pointHoverRadius: s.r,
      pointBorderWidth: s.bw,
      pointBackgroundColor: s.kind === 'dot' ? s.color : (s.fill || 'rgba(0,0,0,0)'),
      pointBorderColor: s.kind === 'dot' ? '#FFFFFF' : s.color,
      order: n - i,
    };
  });
  const tickFont = { family: FONT, size: p.tickFont };
  const xTicks = p.xTicks;
  const yTicks = p.yTicks;
  return {
    type: 'scatter',
    data: { datasets },
    plugins: [makeDecor(p)],
    options: {
      animation: false,
      responsive: false,
      devicePixelRatio: 1,
      events: [],
      layout: { padding: { left: 0, top: p.T - p.cy, right: p.cx + p.cw - p.R, bottom: 0 } },
      plugins: { legend: { display: false }, tooltip: { enabled: false }, title: { display: false } },
      scales: {
        x: {
          type: 'linear', min: p.xMin, max: p.xMax,
          afterBuildTicks: (sc: any) => { sc.ticks = xTicks.map((v) => ({ value: v })); },
          afterFit: (sc: any) => { sc.height = p.cy + p.ch - p.B; },
          ticks: { autoSkip: false, maxRotation: 0, padding: p.xPad, color: '#404040', font: tickFont, callback: (v: number) => fmt(v) },
          grid: { color: '#D9D9D9', lineWidth: 2, drawTicks: false },
          border: { color: '#868686', width: 3 },
        },
        y: {
          type: 'linear', min: p.yMin, max: p.yMax,
          afterBuildTicks: (sc: any) => { sc.ticks = yTicks.map((v) => ({ value: v })); },
          afterFit: (sc: any) => { sc.width = p.L - p.cx; },
          ticks: { autoSkip: false, padding: 38, color: '#404040', font: tickFont, callback: (v: number) => fmt(v) },
          grid: { color: '#D9D9D9', lineWidth: 2, drawTicks: false },
          border: { color: '#868686', width: 3 },
        },
      },
    },
  };
}

function PanelChart({ p }: { p: Panel }) {
  const ref = useRef<HTMLCanvasElement>(null);
  useEffect(() => {
    const chart = new Chart(ref.current as HTMLCanvasElement, buildConfig(p));
    return () => chart.destroy();
  }, [p]);
  return (
    <canvas
      ref={ref}
      width={p.cw}
      height={p.ch}
      style={{ position: 'absolute', left: p.cx, top: p.cy, width: p.cw, height: p.ch }}
    />
  );
}

export default function App() {
  return (
    <div style={{ position: 'absolute', left: 0, top: 0, width: 3387, height: 3443, background: '#FFFFFF', overflow: 'hidden' }}>
      {PANELS.map((p, i) => (
        <PanelChart key={i} p={p} />
      ))}
    </div>
  );
}
